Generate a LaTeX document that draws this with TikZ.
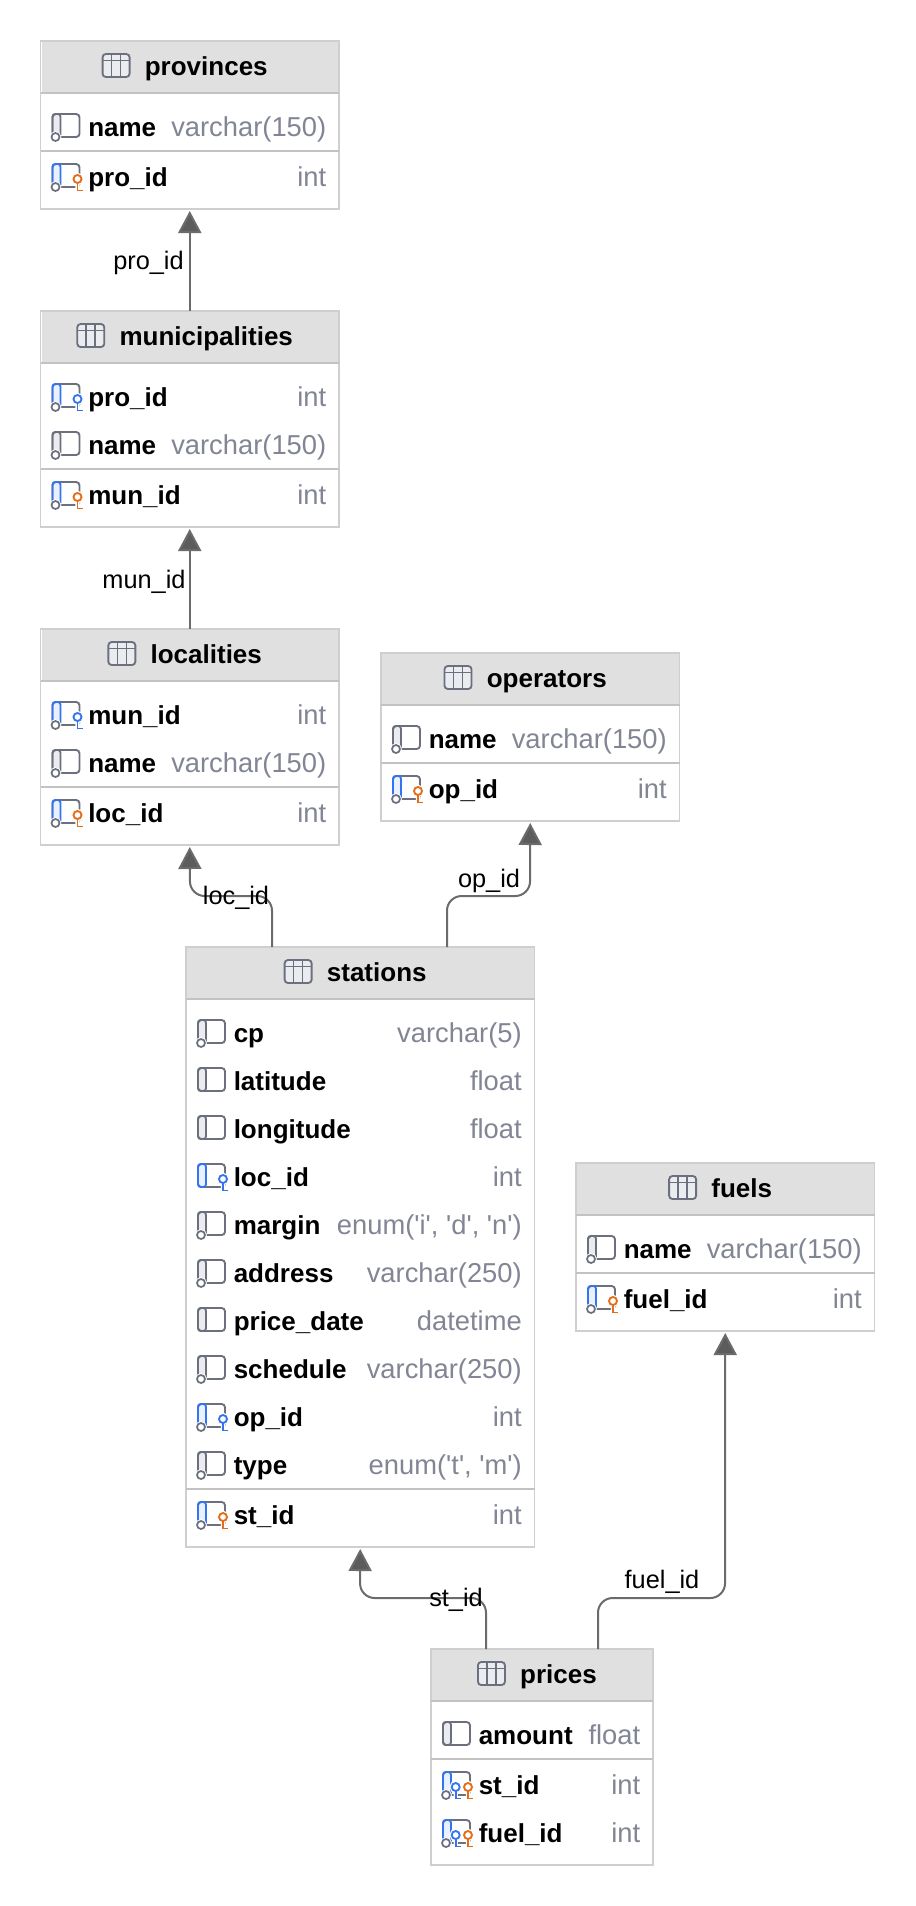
\documentclass[tikz,border=0pt]{standalone}
\usepackage{fontspec}
\newfontfamily\dbfont{Liberation Sans}
\usetikzlibrary{arrows.meta,positioning}
\definecolor{headfill}{HTML}{E0E0E0}
\definecolor{boxline}{HTML}{CFCFCF}
\definecolor{sepline}{HTML}{C2C2C2}
\definecolor{iconline}{HTML}{6C707E}
\definecolor{iconfill}{HTML}{EBECF0}
\definecolor{fkblue}{HTML}{3574F0}
\definecolor{fkfill}{HTML}{E9F0FE}
\definecolor{pkorange}{HTML}{E66D17}
\definecolor{typegray}{HTML}{818594}
\definecolor{linkgray}{HTML}{6B6B6B}
\definecolor{tipgray}{HTML}{5C5C5C}
\def\px{0.75pt}
% column icons, origin at left edge of the icon on the row centre
\newcommand{\iconbase}[2]{
  \fill[#2,rounded corners=2pt] (0,-13) rectangle (8,10);
  \draw[iconline,line width=1.4pt,rounded corners=2.5pt] (0,-13) rectangle (27,10);
  \draw[#1,line width=1.4pt,rounded corners=2pt] (8,-13) -- (0,-13) -- (0,10) -- (8,10) -- cycle;
}
\newcommand{\iconring}{
  \draw[white,line width=2.6pt] (3,10) circle (4);
  \draw[iconline,line width=1.3pt,fill=white] (3,10) circle (4);
}
\newcommand{\iconkey}[2]{
  \draw[white,line width=3.2pt] (#2,2) circle (4) (#2,6) -- (#2,14);
  \draw[#1,line width=1.4pt,fill=white] (#2,2) circle (4);
  \draw[#1,line width=1.4pt] (#2,6) -- (#2,13.5) -- ++(5,0);
}
\tikzset{
  tblbox/.style = {draw=boxline, line width=1pt, fill=white, inner sep=0pt, outer sep=0pt},
  tblhead/.style = {fill=headfill, inner sep=0pt, outer sep=0pt},
  tbltitle/.style = {anchor=base, inner sep=0pt, font=\fontsize{19.5pt}{22pt}\dbfont\bfseries},
  tblsep/.style = {draw=sepline, line width=1.4pt},
  collabel/.style = {anchor=base west, inner sep=0pt, font=\fontsize{19.5pt}{22pt}\dbfont\bfseries},
  coltype/.style = {anchor=base east, inner sep=0pt, text=typegray, font=\fontsize{20.5pt}{22pt}\dbfont},
  fklink/.style = {-{Triangle[width=17.25pt,length=16.5pt,fill=tipgray]}, draw=linkgray,
    line width=1.5pt, rounded corners=11pt, shorten >=1.5pt},
  linklabel/.style = {anchor=base, inner sep=0pt, font=\fontsize{19pt}{22pt}\dbfont},
  tblicon/.pic = {
    \draw[iconline,fill=iconfill,line width=1.4pt,rounded corners=2.5pt] (-42,-21) rectangle (-15,2);
    \draw[iconline,line width=1.2pt] (-42,-14.5) -- (-15,-14.5) (-33,-21) -- (-33,2) (-24,-21) -- (-24,2);
  },
  colplain/.pic = {\iconbase{iconline}{iconfill}},
  colnn/.pic = {\iconbase{iconline}{iconfill}\iconring},
  colfk/.pic = {\iconbase{fkblue}{fkfill}\iconkey{fkblue}{25}},
  colfknn/.pic = {\iconbase{fkblue}{fkfill}\iconkey{fkblue}{25}\iconring},
  colpk/.pic = {\iconbase{fkblue}{fkfill}\iconkey{pkorange}{25}\iconring},
  colpkfk/.pic = {\iconbase{fkblue}{fkfill}\iconkey{fkblue}{12.7}\iconkey{pkorange}{25}\iconring}
}
% name, left, top, width, height
\newcommand{\dbtable}[5]{
  \def\tblL{#2}\def\tblR{(#2+#4)}
  \node[tblbox,minimum width=#4*\px,minimum height=#5*\px] (#1) at ({#2+#4/2},{#3+#5/2}) {};
  \node[tblhead,minimum width=(#4-2)*\px,minimum height=51*\px] (#1head) at ({#2+#4/2},{#3+26}) {};
  \node[tbltitle] (#1title) at ({#2+#4/2+16.5},{#3+34}) {#1};
  \pic at (#1title.base west) {tblicon};
  \draw[tblsep] ({#2},{#3+52}) -- ({#2+#4},{#3+52});
}
% node name, row centre, icon, label, type
\newcommand{\dbrow}[5]{
  \pic at ({\tblL+12},#2) {#3};
  \node[collabel] (#1) at ({\tblL+47.5},{#2+9}) {#4};
  \node[coltype] (#1type) at ({\tblR-12.5},{#2+9}) {#5};
}
\newcommand{\dbsep}[1]{\draw[tblsep] ({\tblL},#1) -- ({\tblR},#1);}

\begin{document}
\begin{tikzpicture}[x=\px,y=-\px]
  \useasboundingbox (0,0) rectangle (916,1906);

  \dbtable{provinces}{40.5}{41}{298.5}{168}
  \dbrow{provname}{127}{colnn}{name}{varchar(150)}
  \dbsep{151}
  \dbrow{proid}{177}{colpk}{pro\_id}{int}

  \dbtable{municipalities}{40.5}{311}{298.5}{216}
  \dbrow{munpro}{397}{colfknn}{pro\_id}{int}
  \dbrow{munname}{445}{colnn}{name}{varchar(150)}
  \dbsep{469}
  \dbrow{munid}{495}{colpk}{mun\_id}{int}

  \dbtable{localities}{40.5}{629}{298.5}{216}
  \dbrow{locmun}{715}{colfknn}{mun\_id}{int}
  \dbrow{locname}{763}{colnn}{name}{varchar(150)}
  \dbsep{787}
  \dbrow{locid}{813}{colpk}{loc\_id}{int}

  \dbtable{operators}{381}{653}{298.5}{168}
  \dbrow{opname}{739}{colnn}{name}{varchar(150)}
  \dbsep{763}
  \dbrow{opid}{789}{colpk}{op\_id}{int}

  \dbtable{stations}{186}{947}{348.5}{600}
  \dbrow{stcp}{1033}{colnn}{cp}{varchar(5)}
  \dbrow{stlat}{1081}{colplain}{latitude}{float}
  \dbrow{stlon}{1129}{colplain}{longitude}{float}
  \dbrow{stloc}{1177}{colfk}{loc\_id}{int}
  \dbrow{stmargin}{1225}{colnn}{margin}{enum('i', 'd', 'n')}
  \dbrow{staddr}{1273}{colnn}{address}{varchar(250)}
  \dbrow{stdate}{1321}{colplain}{price\_date}{datetime}
  \dbrow{stsched}{1369}{colnn}{schedule}{varchar(250)}
  \dbrow{stop}{1417}{colfknn}{op\_id}{int}
  \dbrow{sttype}{1465}{colnn}{type}{enum('t', 'm')}
  \dbsep{1489}
  \dbrow{stid}{1515}{colpk}{st\_id}{int}

  \dbtable{fuels}{576}{1163}{298.5}{168}
  \dbrow{fuelname}{1249}{colnn}{name}{varchar(150)}
  \dbsep{1273}
  \dbrow{fuelid}{1299}{colpk}{fuel\_id}{int}

  \dbtable{prices}{431}{1649}{222}{216}
  \dbrow{priceamt}{1735}{colplain}{amount}{float}
  \dbsep{1759}
  \dbrow{pricest}{1785}{colpkfk}{st\_id}{int}
  \dbrow{pricefuel}{1833}{colpkfk}{fuel\_id}{int}

  % connectors
  \coordinate (locout) at (272,947);
  \coordinate (locturn) at (190,896);
  \coordinate (opout) at (447,947);
  \coordinate (opturn) at (530,896);
  \coordinate (stout) at (486,1649);
  \coordinate (stturn) at (360,1598);
  \coordinate (fuelout) at (598,1649);
  \coordinate (fuelturn) at (725,1598);

  \draw[fklink] (municipalities.north) -- (provinces.south);
  \draw[fklink] (localities.north) -- (municipalities.south);
  \draw[fklink] (locout) |- (locturn) -- (localities.south);
  \draw[fklink] (opout) |- (opturn) -- (operators.south);
  \draw[fklink] (stout) |- (stturn) -- (stations.south);
  \draw[fklink] (fuelout) |- (fuelturn) -- (fuels.south);

  \node[linklabel] (lblpro) at (148.5,269) {pro\_id};
  \node[linklabel] (lblmun) at (144,588) {mun\_id};
  \node[linklabel] (lblloc) at (236,904) {loc\_id};
  \node[linklabel] (lblop) at (489,887) {op\_id};
  \node[linklabel] (lblst) at (456,1606) {st\_id};
  \node[linklabel] (lblfuel) at (662,1588) {fuel\_id};
\end{tikzpicture}
\end{document}
